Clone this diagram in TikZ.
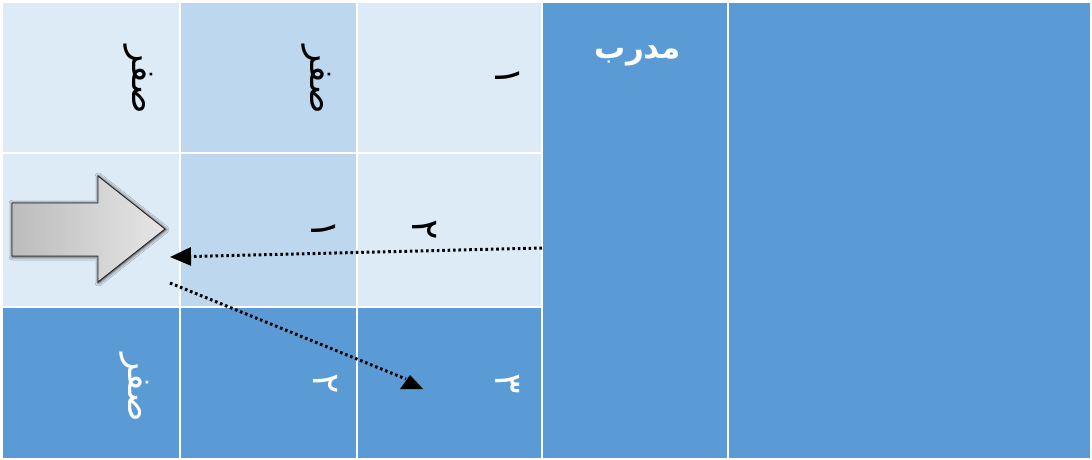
\documentclass[tikz,border=0pt]{standalone}
\usepackage{fontspec}
\newfontfamily\arabicfont[Script=Arabic]{DejaVu Sans}
\TeXXeTstate=1
\usetikzlibrary{arrows.meta,shadows.blur}
\definecolor{cellLight}{HTML}{DDEBF7}
\definecolor{cellMid}{HTML}{BDD7EE}
\definecolor{cellDark}{HTML}{5B9BD5}
\definecolor{arrowDark}{HTML}{BCBCBC}
\definecolor{arrowLight}{HTML}{E6E6E6}

\tikzset{
  gridline/.style={white, line width=1.6pt},
  vlabel/.style={rotate=-90, inner sep=0pt, font=\arabicfont\fontsize{36}{40}\selectfont},
  vdigit/.style={rotate=-90, inner sep=0pt, font=\arabicfont\fontsize{38}{42}\selectfont},
  darkcell/.style={text=white},
  lightcell/.style={text=black},
  header/.style={inner sep=0pt, text=white, font=\arabicfont\bfseries\fontsize{31}{34}\selectfont},
  dotline/.style={black, line width=3pt, dash pattern=on 2.6pt off 2.8pt},
  dotarrow/.style={dotline, -{Triangle[length=21pt,width=18pt]}},
  blockarrow/.style={draw=black!85, line width=0.9pt, left color=arrowDark, right color=arrowLight,
    blur shadow={shadow xshift=0.5pt, shadow yshift=-0.5pt, shadow blur radius=3.5pt,
      shadow opacity=100}}
}

\begin{document}
\begin{tikzpicture}[x=1pt,y=-1pt]
\useasboundingbox (0,0) rectangle (1092,460);
\fill[white] (0,0) rectangle (1092,460);

% cell backgrounds
\fill[cellLight] (3,3) rectangle (542,307);
\fill[cellMid] (180,3) rectangle (357,307);
\fill[cellDark] (3,307) rectangle (542,458);
\fill[cellDark] (542,3) rectangle (1090,458);

% grid
\draw[gridline] (180,3) -- (180,458);
\draw[gridline] (357,3) -- (357,458);
\draw[gridline] (542,3) -- (542,458);
\draw[gridline] (728,3) -- (728,458);
\draw[gridline] (3,153) -- (542,153);
\draw[gridline] (3,307) -- (542,307);

% header
\node[header] (trainer) at (638,56) {\beginR مدرب\endR};

% first row
\node[vlabel, lightcell] (zeroA) at (138,80) {\beginR صفر\endR};
\node[vlabel, lightcell] (zeroB) at (316,80) {\beginR صفر\endR};
\node[vdigit, lightcell] (oneA) at (508,77) {\beginR ١\endR};

% second row
\node[vdigit, lightcell] (oneB) at (324,230) {\beginR ١\endR};
\node[vdigit, lightcell] (twoA) at (425,230) {\beginR ٢\endR};

% third row
\node[vlabel, darkcell] (zeroC) at (134,388) {\beginR صفر\endR};
\node[vdigit, darkcell] (twoB) at (326,384) {\beginR ٢\endR};
\node[vdigit, darkcell] (three) at (508,384) {\beginR ٣\endR};

% block arrow
\path[blockarrow] (12,203) -- (98,203) -- (98,176) -- (165,229) -- (98,282) -- (98,256) -- (12,256) -- cycle;

% dotted connectors
\coordinate (trainerEdge) at (542,248);
\coordinate (arrowTip) at (170,257);
\coordinate (arrowFoot) at (170,283);
\coordinate (threeCell) at (406,379);
\draw[dotarrow] (trainerEdge) -- (arrowTip);
\draw[dotline] (arrowFoot) -- (threeCell);
\fill[black] (400,389) -- (410,375) -- (423,389) -- cycle;
\end{tikzpicture}
\end{document}
